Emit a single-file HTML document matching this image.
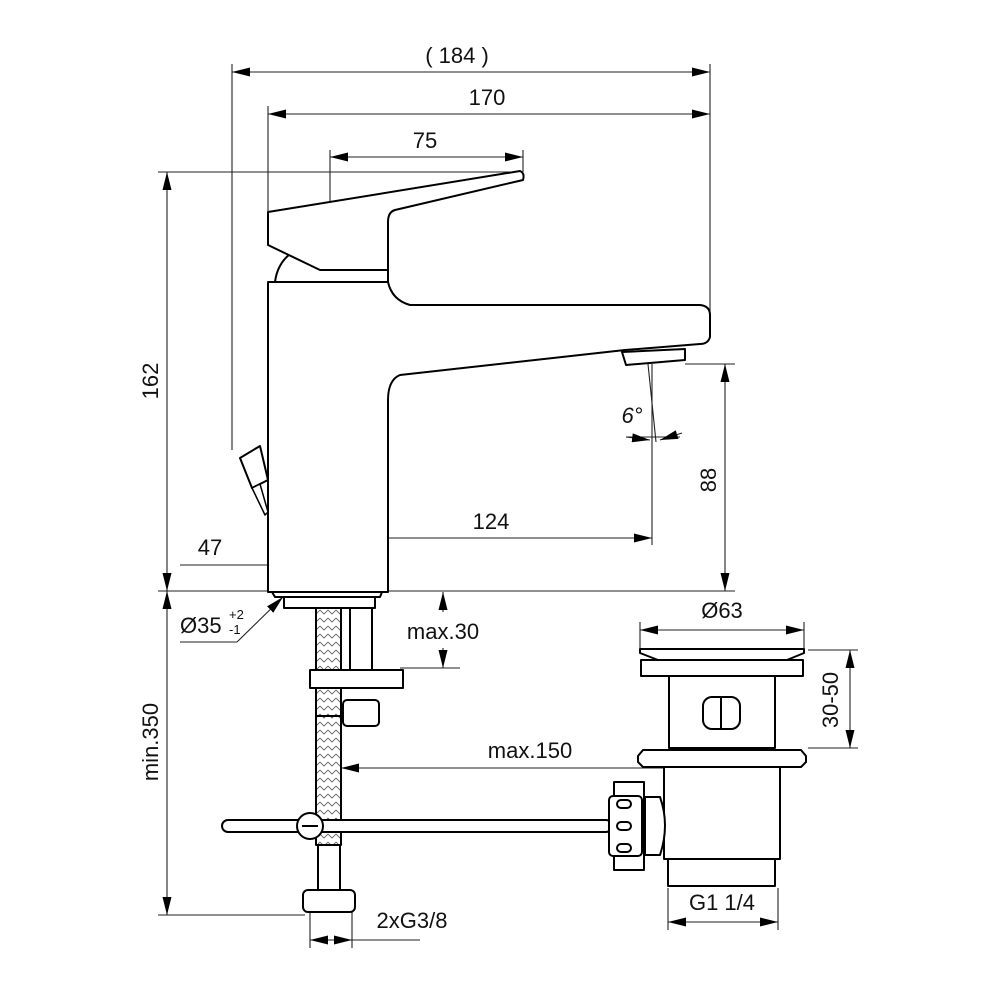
<!DOCTYPE html>
<html><head><meta charset="utf-8"><style>
html,body{margin:0;padding:0;background:#fff}
svg{display:block}
text{font-family:"Liberation Sans",Arial,sans-serif;fill:#111}
</style></head><body>
<svg width="992" height="992" viewBox="0 0 992 992" xmlns="http://www.w3.org/2000/svg">
<defs>
<marker id="a" viewBox="0 0 18 9" refX="18" refY="4.5" markerWidth="18" markerHeight="9" markerUnits="userSpaceOnUse" orient="auto-start-reverse"><path d="M0,0L18,4.5L0,9z" fill="#000"/></marker>
<pattern id="br" width="8" height="8" patternUnits="userSpaceOnUse"><path d="M0,2L4,6L8,2" fill="none" stroke="#555" stroke-width="0.8"/></pattern>
</defs>
<g fill="none" stroke="#222" stroke-width="1.1">
<line x1="232" y1="64" x2="232" y2="450"/>
<line x1="710" y1="64" x2="710" y2="318"/>
<line x1="268" y1="106" x2="268" y2="212"/>
<line x1="330" y1="150" x2="330" y2="208"/>
<line x1="523" y1="150" x2="523" y2="172"/>
<line x1="158" y1="172" x2="520" y2="172"/>
<line x1="158" y1="591" x2="272" y2="591"/>
<line x1="383" y1="591" x2="735" y2="591"/>
<line x1="685" y1="364" x2="735" y2="364"/>
<line x1="652" y1="364" x2="652" y2="545"/>
<line x1="648" y1="364" x2="656" y2="442"/>
<line x1="330" y1="530" x2="330" y2="600"/>
<line x1="180" y1="565" x2="268" y2="565"/>
<line x1="400" y1="668" x2="460" y2="668"/>
<line x1="158" y1="915" x2="305" y2="915"/>
<line x1="310" y1="912" x2="310" y2="948"/>
<line x1="352" y1="912" x2="352" y2="948"/>
<line x1="352" y1="940" x2="420" y2="940"/>
<line x1="640" y1="622" x2="640" y2="652"/>
<line x1="804" y1="622" x2="804" y2="652"/>
<line x1="808" y1="650" x2="858" y2="650"/>
<line x1="808" y1="748" x2="858" y2="748"/>
<line x1="668" y1="888" x2="668" y2="930"/>
<line x1="778" y1="888" x2="778" y2="930"/>
<line x1="722" y1="700" x2="722" y2="775"/>
<line x1="180" y1="642" x2="237" y2="642"/>
<line x1="232" y1="72" x2="710" y2="72" marker-start="url(#a)" marker-end="url(#a)"/>
<line x1="268" y1="114" x2="710" y2="114" marker-start="url(#a)" marker-end="url(#a)"/>
<line x1="330" y1="157" x2="523" y2="157" marker-start="url(#a)" marker-end="url(#a)"/>
<line x1="167" y1="172" x2="167" y2="591" marker-start="url(#a)" marker-end="url(#a)"/>
<line x1="725" y1="364" x2="725" y2="591" marker-start="url(#a)" marker-end="url(#a)"/>
<line x1="330" y1="538" x2="652" y2="538" marker-start="url(#a)" marker-end="url(#a)"/>
<line x1="268" y1="565" x2="388" y2="565" marker-start="url(#a)" marker-end="url(#a)"/>
<line x1="167" y1="591" x2="167" y2="915" marker-start="url(#a)" marker-end="url(#a)"/>
<line x1="443" y1="592" x2="443" y2="612" marker-start="url(#a)"/>
<line x1="443" y1="648" x2="443" y2="668" marker-end="url(#a)"/>
<line x1="237" y1="642" x2="283" y2="597" marker-end="url(#a)"/>
<line x1="626" y1="437" x2="680" y2="437"/>
<line x1="626" y1="437" x2="650" y2="440" marker-end="url(#a)"/>
<line x1="682" y1="433" x2="660" y2="440" marker-end="url(#a)"/>
<line x1="640" y1="630" x2="804" y2="630" marker-start="url(#a)" marker-end="url(#a)"/>
<line x1="850" y1="650" x2="850" y2="748" marker-start="url(#a)" marker-end="url(#a)"/>
<line x1="341" y1="768" x2="722" y2="768" marker-start="url(#a)" marker-end="url(#a)"/>
<line x1="668" y1="922" x2="778" y2="922" marker-start="url(#a)" marker-end="url(#a)"/>
<line x1="310" y1="940" x2="331" y2="940" marker-start="url(#a)"/>
<line x1="331" y1="940" x2="352" y2="940" marker-end="url(#a)"/>
</g>
<g fill="#fff" stroke="#000" stroke-width="2" stroke-linejoin="round">
<path d="M275,282 Q278,258 300,248 L388,270 L388,282 Z"/>
<path d="M268,282 L388,282 Q392,300 410,305 L700,305 Q710,306 710,315 L710,337 Q708,344 700,344 L625,350 L400,375 Q388,380 388,400 L388,592 L268,592 Z"/>
<path d="M268,212 L520,171 Q525,173 523,180 L395,210 Q388,212 388,222 L388,270 L320,270 L268,245 Z"/>
<path d="M622,352 L685,349 L685,360 L626,365 Z"/>
<path d="M240,458 L260,446 L268,480 L252,488 Z"/>
<path d="M252,488 L265,515 L268,512 L260,484 Z" stroke-width="1.5"/>
<path d="M272,592 L382,592 L380,597 L275,597 Z"/>
<rect x="284" y="597" width="91" height="11"/>
<rect x="350" y="608" width="22" height="62"/>
<rect x="316" y="608" width="25" height="237" fill="url(#br)"/>
<line x1="316" y1="716" x2="341" y2="716"/>
<rect x="310" y="670" width="93" height="18"/>
<rect x="343" y="700" width="36" height="26" rx="4"/>
<rect x="222" y="820" width="390" height="12" rx="6"/>
<circle cx="310" cy="826" r="13"/>
<line x1="302" y1="826" x2="318" y2="826"/>
<rect x="318" y="845" width="22" height="45"/>
<rect x="303" y="890" width="52" height="22" rx="5"/>
<path d="M640,649 L804,649 L804,653 L787,660 L658,660 L640,653 Z"/>
<rect x="641" y="660" width="162" height="16"/>
<rect x="669" y="676" width="106" height="72"/>
<rect x="703" y="697" width="37" height="32" rx="9"/>
<line x1="721" y1="697" x2="721" y2="729"/>
<path d="M643,750 L801,750 L806,756 L806,762 L801,767 L643,767 L638,762 L638,756 Z"/>
<rect x="664" y="767" width="116" height="92"/>
<rect x="668" y="859" width="107" height="27"/>
<path d="M645,797 L660,797 Q670,825 660,855 L645,855 Z"/>
<rect x="614" y="782" width="30" height="88"/>
<rect x="609" y="796" width="33" height="60" rx="4"/>
<rect x="617" y="800" width="14" height="8" rx="4"/>
<rect x="617" y="822" width="14" height="8" rx="4"/>
<rect x="617" y="844" width="14" height="8" rx="4"/>
</g>
<g font-size="22">
<text x="457" y="63" text-anchor="middle">( 184 )</text>
<text x="487" y="105" text-anchor="middle">170</text>
<text x="425" y="148" text-anchor="middle">75</text>
<text x="491" y="529" text-anchor="middle">124</text>
<text x="210" y="555" text-anchor="middle">47</text>
<text x="632" y="423" text-anchor="middle" font-style="italic">6°</text>
<text transform="translate(158,381) rotate(-90)" text-anchor="middle">162</text>
<text transform="translate(716,480) rotate(-90)" text-anchor="middle">88</text>
<text transform="translate(158,742) rotate(-90)" text-anchor="middle">min.350</text>
<text transform="translate(838,700) rotate(-90)" text-anchor="middle">30-50</text>
<text x="443" y="639" text-anchor="middle">max.30</text>
<text x="530" y="758" text-anchor="middle">max.150</text>
<text x="722" y="618" text-anchor="middle">Ø63</text>
<text x="722" y="910" text-anchor="middle">G1 1/4</text>
<text x="412" y="928" text-anchor="middle">2xG3/8</text>
<text x="180" y="633">Ø35</text>
<text x="229" y="619" font-size="13">+2</text>
<text x="229" y="634" font-size="13">-1</text>
</g>
</svg>
</body></html>
